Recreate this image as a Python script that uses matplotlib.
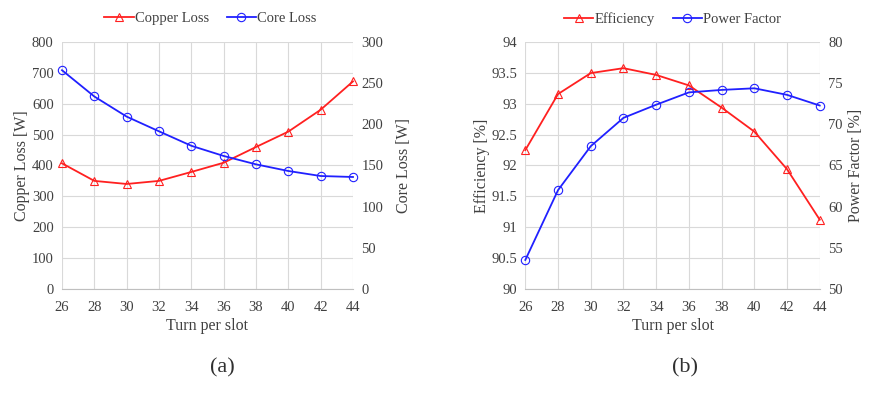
import matplotlib
matplotlib.use("Agg")
import matplotlib.pyplot as plt

plt.rcParams['font.family'] = ['Liberation Serif', 'DejaVu Serif']

turns = [26, 28, 30, 32, 34, 36, 38, 40, 42, 44]
copper_loss = [407, 350, 340, 350, 379, 409, 460, 510, 581, 673]
core_loss = [266, 234, 209.5, 191.6, 174, 161.6, 151.4, 143.3, 137.2, 136]
efficiency = [92.25, 93.16, 93.50, 93.58, 93.47, 93.30, 92.94, 92.55, 91.94, 91.12]
power_factor = [53.5, 62.0, 67.35, 70.8, 72.4, 73.9, 74.2, 74.4, 73.6, 72.3]

RED = '#ff2020'
BLUE = '#2020ff'
GRID = '#d9d9d9'
TXT = '#404040'

fig = plt.figure(figsize=(8.77, 3.93), dpi=100)


def style(ax, ax2):
    for a in (ax, ax2):
        for s in a.spines.values():
            s.set_visible(False)
        a.tick_params(length=0, labelsize=10.5, colors=TXT, pad=6)
    ax.tick_params(axis='x', pad=9)
    ax.grid(True, color=GRID, linewidth=0.8)
    ax.set_axisbelow(True)
    ax.set_xlim(26, 44)
    ax.set_xticks(turns)
    ax.spines['bottom'].set_visible(True)
    ax.spines['bottom'].set_color('#bfbfbf')


def panel(rect, y1, y2, lab1, lab2, ylim1, yt1, ylim2, yt2, ytl1=None):
    ax = fig.add_axes(rect)
    ax2 = ax.twinx()
    l1, = ax.plot(turns, y1, color=RED, lw=1.3, marker='^', ms=6,
                  mfc='none', mec=RED, mew=0.8, label=lab1, clip_on=False)
    l2, = ax2.plot(turns, y2, color=BLUE, lw=1.3, marker='o', ms=6,
                   mfc='none', mec=BLUE, mew=0.8, label=lab2, clip_on=False)
    ax.set_ylim(*ylim1)
    ax.set_yticks(yt1)
    if ytl1 is not None:
        ax.set_yticklabels(ytl1)
    ax2.set_ylim(*ylim2)
    ax2.set_yticks(yt2)
    style(ax, ax2)
    ax.set_xlabel('Turn per slot', fontsize=11.5, color=TXT, labelpad=3)
    return ax, ax2, l1, l2


ax, ax2, l1, l2 = panel([0.0707, 0.2654, 0.3318, 0.627],
                        copper_loss, core_loss, 'Copper Loss', 'Core Loss',
                        (0, 800), range(0, 801, 100), (0, 300), range(0, 301, 50))
ax.set_ylabel('Copper Loss [W]', fontsize=11.5, color=TXT, labelpad=1)
ax2.set_ylabel('Core Loss [W]', fontsize=11.5, color=TXT, labelpad=9)
fig.legend([l1, l2], ['Copper Loss', 'Core Loss'], loc='center',
           bbox_to_anchor=(0.24, 0.952), ncol=2, frameon=False, fontsize=10.5,
           handlelength=2.0, columnspacing=1.2, handletextpad=0.1,
           labelcolor=TXT)

bx, bx2, m1, m2 = panel([0.599, 0.2654, 0.3357, 0.627],
                        efficiency, power_factor, 'Efficiency', 'Power Factor',
                        (90, 94), [90, 90.5, 91, 91.5, 92, 92.5, 93, 93.5, 94],
                        (50, 80), range(50, 81, 5),
                        ytl1=['90', '90.5', '91', '91.5', '92', '92.5', '93', '93.5', '94'])
bx.set_ylabel('Efficiency [%]', fontsize=11.5, color=TXT, labelpad=1)
bx2.set_ylabel('Power Factor [%]', fontsize=11.5, color=TXT, labelpad=4)
fig.legend([m1, m2], ['Efficiency', 'Power Factor'], loc='center',
           bbox_to_anchor=(0.767, 0.952), ncol=2, frameon=False, fontsize=10.5,
           handlelength=2.0, columnspacing=1.2, handletextpad=0.1,
           labelcolor=TXT)

fig.text(0.253, 0.064, '(a)', fontsize=16, ha='center', va='center', color='#303030')
fig.text(0.781, 0.064, '(b)', fontsize=16, ha='center', va='center', color='#303030')

fig.savefig('out.png', dpi=100, facecolor='white')
